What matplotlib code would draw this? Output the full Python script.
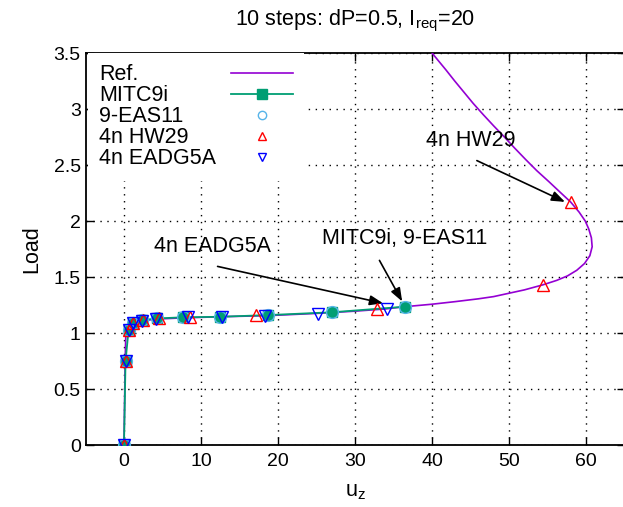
import matplotlib
matplotlib.use("Agg")
import matplotlib.pyplot as plt

plt.rcParams['font.family'] = ['Liberation Sans', 'DejaVu Sans']

# Reference curve
ref_x = [0, 0.08, 0.15, 0.22, 0.35, 0.6, 1.2, 2.4, 4.3, 7.8, 12.5, 18.7, 25, 30, 34, 36.5,
         40, 43, 46, 48, 50, 52, 54.4, 56.2, 57.6, 58.8, 59.8, 60.5, 60.8, 60.7, 60.35, 59.9,
         59.1, 58.0, 56.75, 55.2, 53.6, 52.15, 50.75, 49.4, 48.0, 46.65, 45.35, 44.15,
         42.95, 41.8, 40.6, 39.4]
ref_y = [0, 0.4, 0.75, 0.95, 1.04, 1.075, 1.095, 1.11, 1.125, 1.135, 1.145, 1.155, 1.175, 1.195, 1.215, 1.235,
         1.257, 1.28, 1.305, 1.325, 1.355, 1.385, 1.43, 1.47, 1.51, 1.56, 1.62, 1.69, 1.77, 1.85, 1.93, 2.0,
         2.08, 2.17, 2.25, 2.35, 2.45, 2.55, 2.65, 2.75, 2.85, 2.95, 3.05, 3.15,
         3.25, 3.35, 3.45, 3.55]

mitc_x = [0, 0.2, 0.6, 1.2, 2.4, 4.3, 7.6, 12.5, 18.7, 27.0, 36.5]
mitc_y = [0, 0.75, 1.03, 1.09, 1.115, 1.13, 1.14, 1.145, 1.16, 1.185, 1.235]

eas_x = [0, 0.2, 0.6, 1.2, 2.4, 4.3, 7.6, 12.5, 18.7, 27.0, 36.5]
eas_y = [0, 0.75, 1.03, 1.09, 1.115, 1.13, 1.14, 1.145, 1.16, 1.185, 1.235]

hw_x = [0, 0.2, 0.6, 1.2, 2.5, 4.6, 8.6, 17.2, 32.9, 54.4, 58.0]
hw_y = [0, 0.75, 1.03, 1.09, 1.115, 1.13, 1.14, 1.16, 1.215, 1.43, 2.17]

eadg_x = [0, 0.2, 0.6, 1.2, 2.3, 4.2, 8.3, 12.7, 18.3, 25.2, 34.1]
eadg_y = [0, 0.75, 1.03, 1.09, 1.11, 1.125, 1.14, 1.14, 1.155, 1.17, 1.21]

xticks = [0, 10, 20, 30, 40, 50, 60]
yticks = [0, 0.5, 1, 1.5, 2, 2.5, 3, 3.5]
ytick_labels = ['0', '0.5', '1', '1.5', '2', '2.5', '3', '3.5']

FS = 15.5
W, H = 623, 507
fig = plt.figure(figsize=(W/100, H/100), dpi=100)
ax = fig.add_axes([85.5/W, 62/H, 539/W, 392/H])

ax.plot(ref_x, ref_y, color='#9400d3', lw=1.2, zorder=3, label='Ref.')
ax.plot(mitc_x, mitc_y, color='#009e73', lw=1.3, marker='s', ms=7.5, zorder=4, label='MITC9i')
ax.plot(eas_x, eas_y, ls='none', marker='o', ms=8.5, mfc='none', mec='#56b4e9', mew=1.0,
        zorder=5, label='9-EAS11')
ax.plot(hw_x, hw_y, ls='none', marker='^', ms=8, mfc='none', mec='#ff0000', mew=1.0,
        zorder=6, label='4n HW29')
ax.plot(eadg_x, eadg_y, ls='none', marker='v', ms=8, mfc='none', mec='#0000ff', mew=1.0,
        zorder=7, label='4n EADG5A')

ax.set_xlim(-5, 65)
ax.set_ylim(0, 3.5)
ax.set_xticks(xticks)
ax.set_yticks(yticks)
ax.set_yticklabels(ytick_labels)
ax.tick_params(direction='in', top=True, right=True, length=6, labelsize=14, width=1)
ax.tick_params(axis='x', pad=6)
ax.grid(True, color='black', ls=(0, (1, 4)), lw=1)
for s in ax.spines.values():
    s.set_linewidth(1.3)

ax.set_xlabel('u$_\\mathregular{z}$', fontsize=FS, labelpad=8)
ax.set_ylabel('Load', fontsize=FS, labelpad=8)
ax.set_title('10 steps: dP=0.5, I$_\\mathregular{req}$=20', fontsize=FS, pad=20)

arrowprops = dict(arrowstyle='-|>,head_length=0.8,head_width=0.3', color='black', lw=1.2)
ax.annotate('4n HW29', xy=(57.6, 2.16), xytext=(45.0, 2.72), fontsize=FS, ha='center', va='center')
ax.annotate('', xy=(57.6, 2.16), xytext=(45.5, 2.55), arrowprops=arrowprops)
ax.annotate('MITC9i, 9-EAS11', xy=(36.3, 1.26), xytext=(36.5, 1.84), fontsize=FS, ha='center', va='center')
ax.annotate('', xy=(36.3, 1.26), xytext=(33.0, 1.67), arrowprops=arrowprops)
ax.annotate('4n EADG5A', xy=(34.0, 1.26), xytext=(11.5, 1.77), fontsize=FS, ha='center', va='center')
ax.annotate('', xy=(34.0, 1.26), xytext=(11.8, 1.6), arrowprops=arrowprops)

bp = 0.53
leg = ax.legend(loc='upper left', bbox_to_anchor=((99 - bp * FS * 100 / 72) / W, 1 - 53/H),
                bbox_transform=fig.transFigure,
                frameon=True, fontsize=FS, markerfirst=False, handlelength=2.88, handletextpad=0.7,
                labelspacing=0.0, borderaxespad=0, borderpad=bp, fancybox=False)
leg.get_frame().set_facecolor('white')
leg.get_frame().set_edgecolor('none')
leg.get_frame().set_alpha(1)
for h, ms in zip(leg.legend_handles, [None, 7, 6, 6, 6]):
    if ms is not None:
        h.set_markersize(ms)

# left-align legend labels (gnuplot style)
fig.canvas.draw()
r = fig.canvas.get_renderer()
texts = leg.get_texts()
exts = [t.get_window_extent(r) for t in texts]
x_left = min(e.x0 for e in exts)
for t, e in zip(texts, exts):
    t.set_alpha(0)
    fig.text(x_left / W, e.y0 / H, t.get_text(), fontsize=FS, ha='left', va='bottom', zorder=10)

fig.savefig('out.png', dpi=100)
